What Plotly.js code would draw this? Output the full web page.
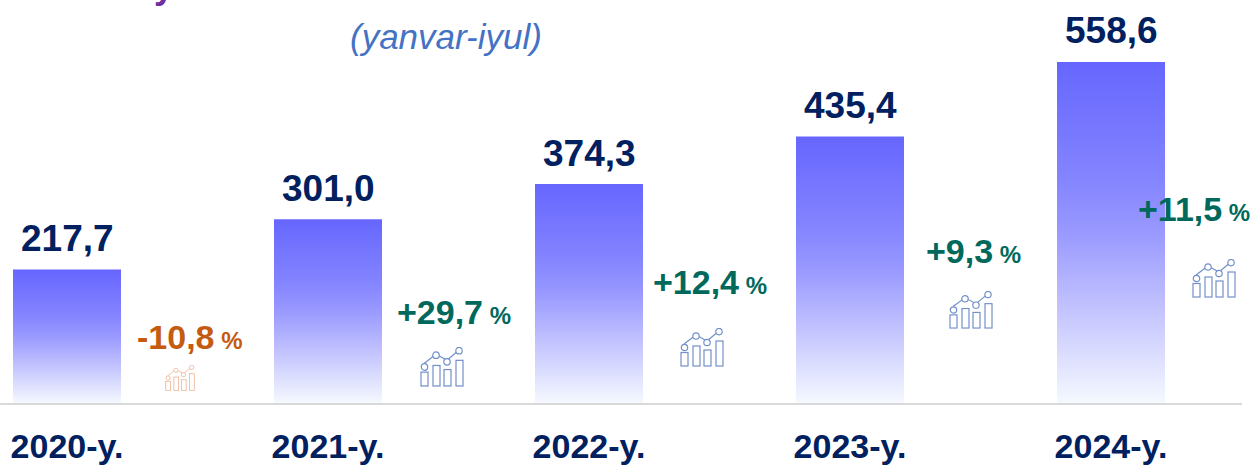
<!DOCTYPE html>
<html>
<head>
<meta charset="utf-8">
<script src="https://cdn.plot.ly/plotly-3.0.1.min.js"></script>
<style>html,body{margin:0;padding:0;background:#fff;overflow:hidden}#chart{width:1254px;height:465px}</style>
</head>
<body>
<div id="chart"></div>
<script>
var years = ['2020-y.', '2021-y.', '2022-y.', '2023-y.', '2024-y.'];
var barHeights = [218.5, 301.0, 358.7, 436.5, 558.6];
var valueLabels = ['217,7', '301,0', '374,3', '435,4', '558,6'];
var growthLabels = ['-10,8', '+29,7', '+12,4', '+9,3', '+11,5'];
var growthColors = ['#C55A11', '#00695C', '#00695C', '#00695C', '#00695C'];
var growthX = [190, 454, 710, 973, 1194];
var growthY = [337, 312, 282, 251, 209];
var iconBoxes = [[165, 365, 30, 26], [420, 347, 44, 40], [680, 328, 44, 39], [949, 291, 44, 38], [1192, 259, 44, 39]];
var iconColors = ['#EDB594', '#7390CB', '#7390CB', '#7390CB', '#7390CB'];

var W = 1254, H = 465, BASE = 403, RIGHT = 1242;
var FONT = 'Liberation Sans, Arial, sans-serif';

function iconUri(color) {
  var svg = '<svg xmlns="http://www.w3.org/2000/svg" width="176" height="156" viewBox="0 0 44 39">' +
    '<g fill="#fff" stroke="' + color + '" stroke-width="1.2">' +
    '<path d="M4 16 L16 7 L27 13 L39 3" fill="none"/>' +
    '<rect x="1" y="24.5" width="7" height="13.5"/>' +
    '<rect x="13" y="18" width="7" height="20"/>' +
    '<rect x="24" y="22" width="7" height="16"/>' +
    '<rect x="36" y="13" width="7" height="25"/>' +
    '<circle cx="4.5" cy="19.5" r="3.2"/>' +
    '<circle cx="16" cy="8" r="3.2"/>' +
    '<circle cx="27" cy="14.5" r="3.2"/>' +
    '<circle cx="39" cy="3.6" r="3.2"/>' +
    '</g></svg>';
  return 'data:image/svg+xml;base64,' + btoa(svg);
}

var annotations = growthLabels.map(function (g, i) {
  return {
    xref: 'paper', yref: 'paper', x: growthX[i] / RIGHT, y: 1 - growthY[i] / BASE,
    xanchor: 'center', yanchor: 'middle', showarrow: false,
    text: g + '<span style="font-size:24px"> %</span>',
    font: {family: FONT, size: 34, weight: 'bold', color: growthColors[i]}
  };
});
valueLabels.forEach(function (t, i) {
  annotations.push({
    xref: 'x', yref: 'y', x: years[i], y: barHeights[i], yshift: 31,
    xanchor: 'center', yanchor: 'middle', showarrow: false, text: t,
    font: {family: FONT, size: 37, weight: 'bold', color: '#002060'}
  });
});
annotations.push({
  xref: 'paper', yref: 'paper', x: 446 / RIGHT, y: 1 - 37 / BASE,
  xanchor: 'center', yanchor: 'middle', showarrow: false, text: '(yanvar-iyul)',
  font: {family: FONT, size: 35, style: 'italic', color: '#4472C4'}
});
annotations.push({
  xref: 'paper', yref: 'paper', x: 164 / RIGHT, y: 1 + 14 / BASE,
  xanchor: 'center', yanchor: 'middle', showarrow: false, text: 'y',
  font: {family: FONT, size: 36, weight: 'bold', color: '#7030A0'}
});

var images = iconBoxes.map(function (b, i) {
  return {
    source: iconUri(iconColors[i]), xref: 'paper', yref: 'paper',
    x: b[0] / RIGHT, y: 1 - b[1] / BASE, sizex: b[2] / RIGHT, sizey: b[3] / BASE,
    xanchor: 'left', yanchor: 'top', sizing: 'stretch', layer: 'above'
  };
});

var trace = {
  type: 'bar', x: years, y: barHeights, cliponaxis: false,
  marker: {color: '#7777FF', line: {width: 0}},
  hoverinfo: 'skip'
};

var layout = {
  width: W, height: H, showlegend: false,
  margin: {l: 0, r: W - RIGHT, t: 0, b: H - BASE, pad: 0},
  paper_bgcolor: '#fff', plot_bgcolor: '#fff',
  bargap: 1 - 108 / 261,
  xaxis: {
    type: 'category', range: [-67 / 261, (RIGHT - 67) / 261], fixedrange: true,
    showgrid: false, zeroline: false, showline: true, linecolor: '#D9D9D9', linewidth: 2,
    ticks: 'outside', ticklen: 12, tickcolor: 'rgba(0,0,0,0)',
    tickfont: {family: FONT, size: 34, weight: 'bold', color: '#002060'}
  },
  yaxis: {range: [0, BASE / 0.6105], visible: false, fixedrange: true},
  annotations: annotations, images: images
};

function applyGradient() {
  var gd = document.getElementById('chart');
  var svg = gd.querySelector('svg.main-svg');
  var defs = svg.querySelector('defs');
  var NS = 'http://www.w3.org/2000/svg';
  if (!document.getElementById('barGrad')) {
    var g = document.createElementNS(NS, 'linearGradient');
    g.setAttribute('id', 'barGrad');
    g.setAttribute('x1', '0'); g.setAttribute('y1', '0');
    g.setAttribute('x2', '0'); g.setAttribute('y2', '1');
    [[0, '#6666FF'], [0.35, '#8585FF'], [0.5, '#9999FF'], [0.72, '#C2C2FF'], [1, '#F5F9FE']].forEach(function (s) {
      var st = document.createElementNS(NS, 'stop');
      st.setAttribute('offset', s[0]);
      st.setAttribute('stop-color', s[1]);
      g.appendChild(st);
    });
    defs.appendChild(g);
  }
  gd.querySelectorAll('.bars .point path').forEach(function (p) {
    p.style.fill = 'url(#barGrad)';
  });
}

Plotly.newPlot('chart', [trace], layout, {displayModeBar: false, staticPlot: true}).then(function (gd) {
  applyGradient();
  gd.on('plotly_afterplot', applyGradient);
});
</script>
</body>
</html>
